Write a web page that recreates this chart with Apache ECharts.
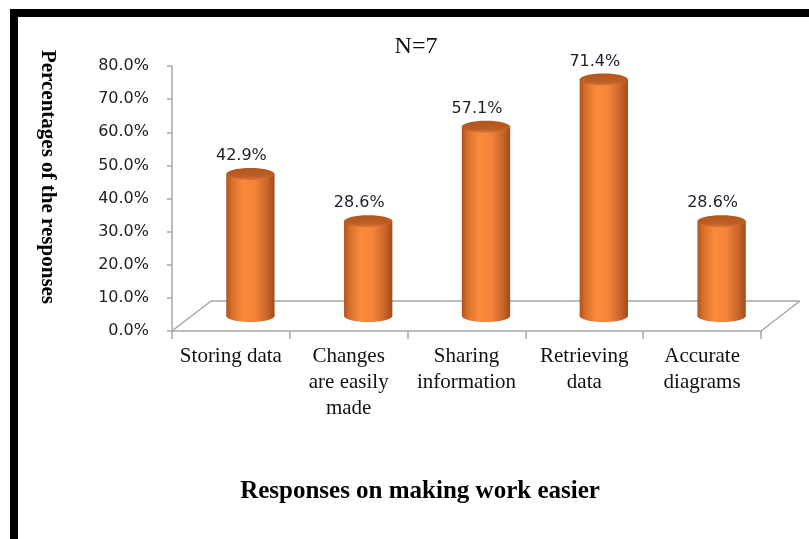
<!DOCTYPE html>
<html>
<head>
<meta charset="utf-8">
<script src="https://cdn.jsdelivr.net/npm/echarts@6/dist/echarts.min.js"></script>
<style>
  html, body { margin: 0; padding: 0; background: #fff; }
  #chart { width: 809px; height: 539px; }
</style>
</head>
<body>
<div id="chart"></div>
<script>
// data
const categories = ['Storing data', 'Changes\nare easily\nmade', 'Sharing\ninformation', 'Retrieving\ndata', 'Accurate\ndiagrams']
const responses = [0.429, 0.286, 0.571, 0.714, 0.286]
const yTicks = { min: 0, max: 0.8, step: 0.1 }

// 3d look: floor depth and bar offset (bars stand in the middle of the depth)
const DEPTH_X = 39
const DEPTH_Y = 30
const GRAY = '#a6a6a6'

const chart = echarts.init(document.getElementById('chart'))

const bodyFill = new echarts.graphic.LinearGradient(0, 0, 1, 0, [
  { offset: 0, color: '#b0531c' },
  { offset: 0.12, color: '#d8702b' },
  { offset: 0.35, color: '#fb8a3b' },
  { offset: 0.6, color: '#f5843a' },
  { offset: 0.85, color: '#c9642a' },
  { offset: 1, color: '#9e4c1a' }
])
const topFill = new echarts.graphic.LinearGradient(0, 0, 0, 1, [
  { offset: 0, color: '#b1561f' },
  { offset: 0.7, color: '#bd5f24' },
  { offset: 1, color: '#d97a3a' }
])

const renderFloor = (params, api) => {
  const bw = api.size([1, 0])[0]
  const p = api.coord([api.value(0), 0])
  const left = p[0] - bw / 2
  const right = p[0] + bw / 2
  const y0 = p[1]
  const children = [{
    type: 'line',
    shape: { x1: left + DEPTH_X, y1: y0 - DEPTH_Y, x2: right + DEPTH_X, y2: y0 - DEPTH_Y },
    style: { stroke: GRAY, lineWidth: 1.5 }
  }]
  if (params.dataIndex === 0) {
    children.push({
      type: 'line',
      shape: { x1: left, y1: y0, x2: left + DEPTH_X, y2: y0 - DEPTH_Y },
      style: { stroke: GRAY, lineWidth: 1.5 }
    })
  }
  if (params.dataIndex === categories.length - 1) {
    children.push({
      type: 'line',
      shape: { x1: right, y1: y0, x2: right + DEPTH_X, y2: y0 - DEPTH_Y },
      style: { stroke: GRAY, lineWidth: 1.5 }
    })
  }
  return { type: 'group', children }
}

const renderCylinder = (params, api) => {
  const v = api.value(1)
  const base = api.coord([api.value(0), 0])
  const top = api.coord([api.value(0), v])
  const bw = api.size([1, 0])[0]
  const w = bw * 0.41
  const cx = base[0] + DEPTH_X / 2
  const yb = base[1] - DEPTH_Y / 2
  const yt = top[1] - DEPTH_Y / 2
  const rx = w / 2
  const ry = 6
  return {
    type: 'group',
    children: [
      { type: 'ellipse', shape: { cx: cx, cy: yb, rx: rx, ry: ry }, style: { fill: bodyFill } },
      { type: 'rect', shape: { x: cx - rx, y: yt, width: w, height: yb - yt }, style: { fill: bodyFill } },
      { type: 'ellipse', shape: { cx: cx, cy: yt, rx: rx, ry: ry }, style: { fill: topFill } },
      {
        type: 'text',
        x: cx - 9,
        y: yt - 18,
        style: {
          text: (v * 100).toFixed(1) + '%',
          fill: '#1e1e28',
          font: '16px "DejaVu Sans"',
          align: 'center',
          verticalAlign: 'middle'
        }
      }
    ]
  }
}

chart.setOption({
  animation: false,
  backgroundColor: '#fff',
  grid: { left: 172, right: 48, top: 66, bottom: 208, containLabel: false },
  xAxis: {
    type: 'category',
    data: categories,
    axisLine: { lineStyle: { color: GRAY, width: 1.5 } },
    axisTick: { show: true, length: 8, lineStyle: { color: GRAY, width: 1.5 } },
    axisLabel: {
      interval: 0,
      margin: 12,
      fontFamily: 'Liberation Serif',
      fontSize: 21,
      lineHeight: 26,
      color: '#111'
    }
  },
  yAxis: {
    type: 'value',
    min: yTicks.min,
    max: yTicks.max,
    interval: yTicks.step,
    splitLine: { show: false },
    axisLine: { show: true, lineStyle: { color: GRAY, width: 1.5 } },
    axisTick: { show: true, length: 5, lineStyle: { color: GRAY, width: 1.5 } },
    axisLabel: {
      margin: 23,
      fontFamily: 'DejaVu Sans',
      fontSize: 16,
      color: '#222',
      formatter: (v) => (v * 100).toFixed(1) + '%'
    }
  },
  graphic: [
    { type: 'rect', left: 10, top: 9, shape: { width: 799, height: 8 }, style: { fill: '#000' } },
    { type: 'rect', left: 10, top: 9, shape: { width: 8, height: 530 }, style: { fill: '#000' } },
    {
      type: 'text',
      x: 416, y: 47,
      style: { text: 'N=7', font: '24px "Liberation Serif"', fill: '#111', align: 'center', verticalAlign: 'middle' }
    },
    {
      type: 'text',
      x: 47, y: 177,
      rotation: -Math.PI / 2,
      style: { text: 'Percentages of the responses', font: 'bold 21px "Liberation Serif"', fill: '#000', align: 'center', verticalAlign: 'middle' }
    },
    {
      type: 'text',
      x: 420, y: 492,
      style: { text: 'Responses on making work easier', font: 'bold 25px "Liberation Serif"', fill: '#000', align: 'center', verticalAlign: 'middle' }
    }
  ],
  series: [
    {
      type: 'custom',
      renderItem: renderFloor,
      data: categories.map((c, i) => [i, 0]),
      z: 1,
      silent: true
    },
    {
      type: 'custom',
      renderItem: renderCylinder,
      data: responses.map((v, i) => [i, v]),
      z: 2
    }
  ]
})
</script>
</body>
</html>
